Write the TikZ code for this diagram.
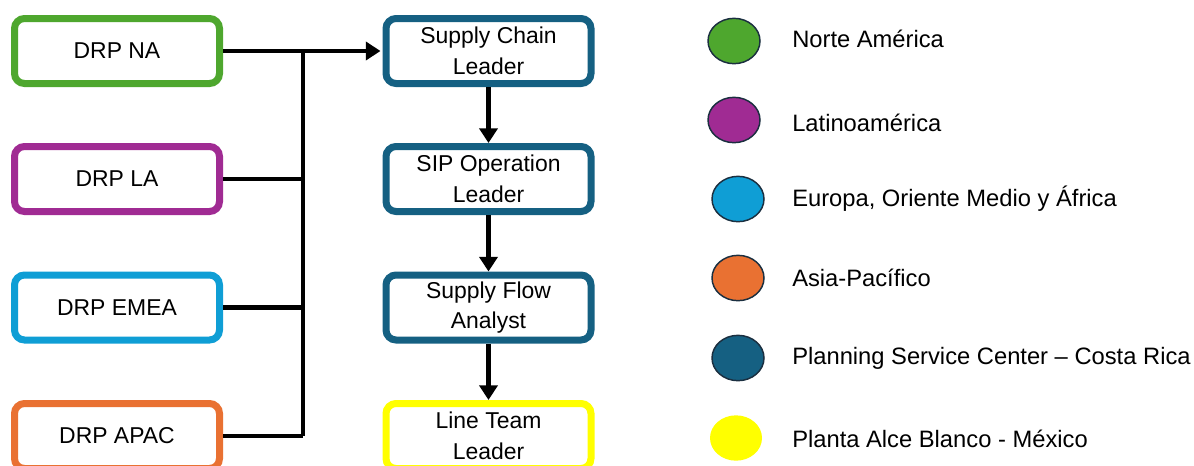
\documentclass[tikz,border=0pt]{standalone}
\usepackage{fontspec}
\setmainfont{Liberation Sans}
\usetikzlibrary{arrows.meta,shapes.geometric}

\definecolor{naGreen}{HTML}{4EA72E}
\definecolor{laPurple}{HTML}{A02B93}
\definecolor{emeaBlue}{HTML}{0F9ED5}
\definecolor{apacOrange}{HTML}{E97132}
\definecolor{pscBlue}{HTML}{156082}
\definecolor{plantYellow}{HTML}{FFFF00}
\definecolor{dotEdge}{HTML}{1B2F40}

\tikzset{
  orgbox/.style={draw=#1, line width=5.25pt, rounded corners=7.5pt, fill=white,
    minimum width=153.75pt, minimum height=48.75pt, inner sep=0pt, align=center,
    font=\fontsize{17.2}{23}\selectfont},
  bus/.style={line width=3.4pt},
  flow/.style={line width=4.2pt, -{Triangle[width=13.5pt,length=11pt]}},
  legdot/.style={ellipse, draw=dotEdge, line width=1.1pt, fill=#1,
    minimum width=39pt, minimum height=34pt, inner sep=0pt},
  legtext/.style={anchor=west, inner sep=0pt, font=\fontsize{17.8}{20}\selectfont}
}

\begin{document}
\begin{tikzpicture}[x=0.75pt, y=-0.75pt]
    \useasboundingbox (0,0) rectangle (1194,465);
    \clip (0,0) rectangle (1194,465);

    % regional DRP boxes
    \node [orgbox=naGreen]    (na)   at (117,51)    {DRP NA};
    \node [orgbox=laPurple]   (la)   at (117,179)   {DRP LA};
    \node [orgbox=emeaBlue]   (emea) at (117,307.5) {DRP EMEA};
    \node [orgbox=apacOrange] (apac) at (117,436)   {DRP APAC};

    % chain in Costa Rica / Mexico
    \node [orgbox=pscBlue]     (scl) at (488.5,51)    {Supply Chain\\Leader};
    \node [orgbox=pscBlue]     (sip) at (488.5,179)   {SIP Operation\\Leader};
    \node [orgbox=pscBlue]     (sfa) at (488.5,307.5) {Supply Flow\\Analyst};
    \node [orgbox=plantYellow] (ltl) at (488.5,436)   {Line Team\\Leader};

    % collector line
    \coordinate (bustop) at (303,51);
    \coordinate (busbot) at (303,436);
    \draw [bus] (bustop) -- (busbot);
    \draw [bus] (la.east) -- (la.east -| bustop);
    \draw [bus] (emea.east) -- (emea.east -| bustop);
    \draw [bus] (apac.east) -- (apac.east -| bustop);
    \draw [bus, -{Triangle[width=13.5pt,length=11pt]}, shorten >=1.5pt] (na.east) -- (scl.west);

    \draw [flow] (scl.south) -- (sip.north);
    \draw [flow] (sip.south) -- (sfa.north);
    \draw [flow] (sfa.south) -- (ltl.north);

    % legend
    \node [legdot=naGreen]    (dna)   at (734,41)  {};
    \node [legdot=laPurple]   (dla)   at (734,120) {};
    \node [legdot=emeaBlue]   (demea) at (738,199) {};
    \node [legdot=apacOrange] (dapac) at (738,278) {};
    \node [legdot=pscBlue]    (dpsc)  at (738,358) {};
    \node [legdot=plantYellow, draw=none] (dplant) at (736,438) {};

    \node [legtext] (tna)    at (792,39)  {Norte América};
    \node [legtext] (tla)    at (792,123) {Latinoamérica};
    \node [legtext] (temea)  at (792,199) {Europa, Oriente Medio y África};
    \node [legtext] (tapac)  at (792,278) {Asia-Pacífico};
    \node [legtext] (tpsc)   at (792,358) {Planning Service Center – Costa Rica};
    \node [legtext] (tplant) at (792,439) {Planta Alce Blanco - México};
\end{tikzpicture}
\end{document}
